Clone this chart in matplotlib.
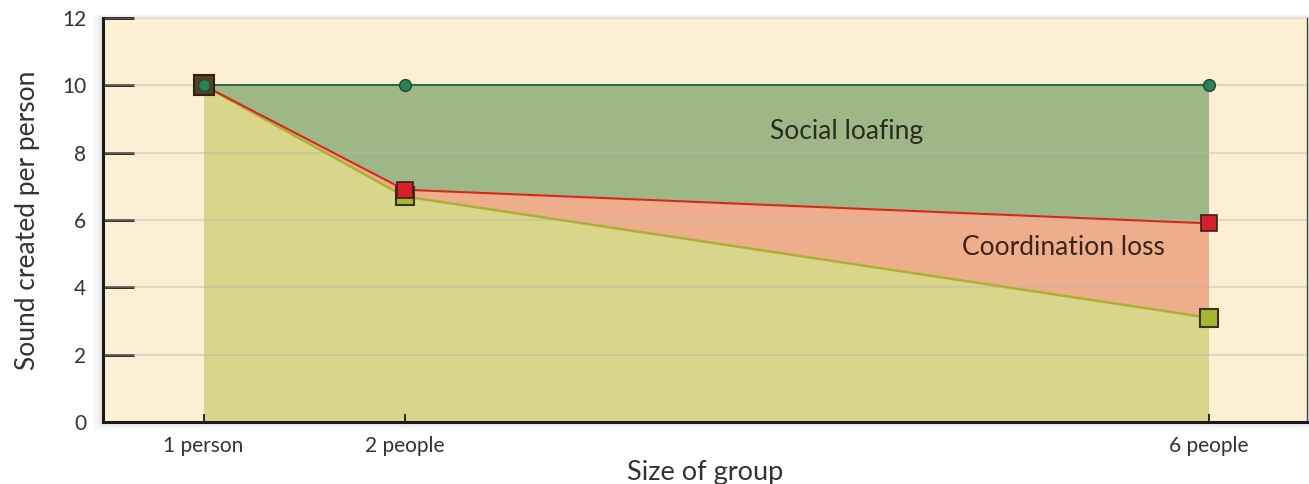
import matplotlib.pyplot as plt
from matplotlib.patches import Rectangle

plt.rcParams["font.family"] = ["Lato", "DejaVu Sans"]

# group sizes and sound per person
group_size = [1, 2, 6]
group_labels = ["1 person", "2 people", "6 people"]
potential = [10, 10, 10]
expected = [10, 6.9, 5.9]
actual = [10, 6.7, 3.1]

y_ticks = [0, 2, 4, 6, 8, 10, 12]

fig = plt.figure(figsize=(13.09, 4.84), dpi=100)
ax = fig.add_axes([0.0787, 0.1281, 0.9198, 0.8347])
ax.set_facecolor("#FDEFD4")

# soft shadow around frame
for i, a in enumerate([0.05, 0.04, 0.03, 0.02]):
    pad = 0.002 * (i + 1)
    fig.patches.append(Rectangle((0.0787 - pad, 0.1281 - 2 * pad), 0.9198 + 2 * pad, 0.8347 + 3 * pad,
                                 transform=fig.transFigure, facecolor="#555555", alpha=a,
                                 edgecolor="none", zorder=-1))

ax.fill_between(group_size, 0, actual, color="#D9D58A", lw=0, zorder=1)
ax.fill_between(group_size, actual, expected, color="#EEAE8C", lw=0, zorder=1)
ax.fill_between(group_size, expected, potential, color="#9DB886", lw=0, zorder=1)

for y in y_ticks[1:]:
    ax.axhline(y, color="#BDB5AE", lw=1.2, alpha=0.5, zorder=2)

ax.plot(group_size, potential, color="#2E6B3F", lw=1.5, zorder=3)
ax.plot(group_size, actual, color="#A9B232", lw=1.8, zorder=3)
ax.plot(group_size, expected, color="#D8281E", lw=1.5, zorder=3)

ax.plot(group_size, actual, ls="none", marker="s", ms=13, mfc="#A8B62E",
        mec="#3A3320", mew=1.5, zorder=4)
ax.plot(group_size, expected, ls="none", marker="s", ms=11, mfc="#D71F2A",
        mec="#3A2020", mew=1.2, zorder=5)
# first point drawn as dark brown square
ax.plot(group_size[0], actual[0], ls="none", marker="s", ms=14, mfc="#5A4020",
        mec="#2A2015", mew=1.5, zorder=6)
ax.plot(group_size, potential, ls="none", marker="o", ms=8.5, mfc="#2B8158",
        mec="#1E4A2E", mew=1.0, zorder=7)

ax.text(4.2, 8.64, "Social loafing", fontsize=19, color="#2A2A1E",
        ha="center", va="center", zorder=8)
ax.text(5.28, 5.17, "Coordination loss", fontsize=19, color="#3A2418",
        ha="center", va="center", zorder=8)

ax.set_xlim(0.5, 6.49)
ax.set_ylim(0, 12)
ax.set_yticks(y_ticks)
ax.set_xticks(group_size)
ax.set_xticklabels(group_labels)
ax.tick_params(axis="y", direction="in", length=22, width=2, color="#1A1A1A",
               labelsize=15, labelcolor="#333333", pad=12)
ax.tick_params(axis="x", direction="in", length=6, width=1.3, color="#1A1A1A",
               labelsize=15, labelcolor="#333333", pad=10)

ax.spines["top"].set_visible(False)
ax.spines["right"].set_linewidth(1.0)
ax.spines["right"].set_color("#444444")
ax.spines["left"].set_linewidth(2.2)
ax.spines["bottom"].set_linewidth(2.2)
ax.spines["left"].set_color("#1A1A1A")
ax.spines["bottom"].set_color("#1A1A1A")

ax.set_xlabel("Size of group", fontsize=19.5, color="#333333", labelpad=3)
ax.set_ylabel("Sound created per person", fontsize=19, color="#333333", labelpad=16)

fig.savefig("out.png", dpi=100, facecolor="white")
